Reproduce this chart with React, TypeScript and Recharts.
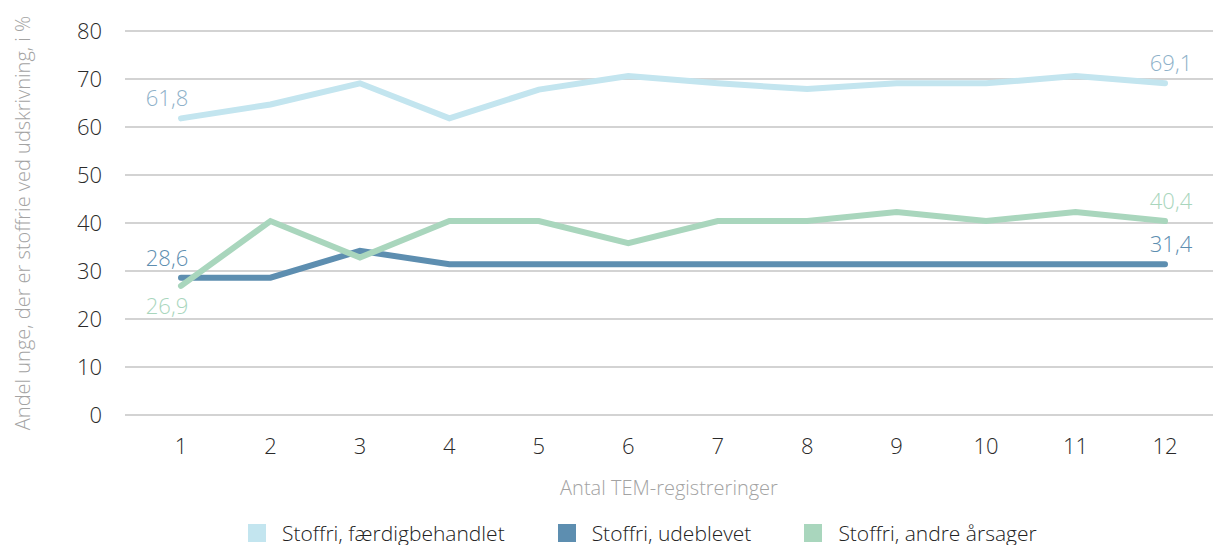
import { LineChart, Line, XAxis, YAxis, CartesianGrid, LabelList } from "recharts";

const categories = ["1", "2", "3", "4", "5", "6", "7", "8", "9", "10", "11", "12"];
const faerdig = [61.8, 64.7, 69.1, 61.8, 67.8, 70.6, 69.1, 67.9, 69.1, 69.1, 70.6, 69.1];
const udeblevet = [28.6, 28.6, 34.2, 31.4, 31.4, 31.4, 31.4, 31.4, 31.4, 31.4, 31.4, 31.4];
const andre = [26.9, 40.4, 32.8, 40.4, 40.4, 35.8, 40.4, 40.4, 42.3, 40.4, 42.3, 40.4];
const yTicks = [0, 10, 20, 30, 40, 50, 60, 70, 80];

const series = [
  { key: "faerdig", name: "Stoffri, færdigbehandlet", color: "#c3e5ef", labelColor: "#8eb1c9", firstBelow: false },
  { key: "udeblevet", name: "Stoffri, udeblevet", color: "#5d8eb0", labelColor: "#5d8eb0", firstBelow: false },
  { key: "andre", name: "Stoffri, andre årsager", color: "#a9d6bd", labelColor: "#a9d6bd", firstBelow: true },
];

const data = categories.map((c, i) => ({
  cat: c,
  faerdig: faerdig[i],
  udeblevet: udeblevet[i],
  andre: andre[i],
}));

const FONT = "'Open Sans', sans-serif";
const last = categories.length - 1;

function endLabel(color: string, firstBelow: boolean) {
  return (props: any) => {
    const { x, y, value, index } = props;
    if (index !== 0 && index !== last) return null;
    const dx = index === 0 ? -14 : 6;
    const dy = index === 0 && firstBelow ? 19 : -21;
    return (
      <text
        x={x + dx}
        y={y + dy}
        fill={color}
        fontSize={22}
        fontWeight={300}
        fontFamily={FONT}
        textAnchor="middle"
        dominantBaseline="central"
      >
        {String(value).replace(".", ",")}
      </text>
    );
  };
}

export default function App() {
  return (
    <div style={{ position: "absolute", left: 0, top: 0, width: 1213, height: 545, background: "#fff" }}>
      <LineChart
        width={1213}
        height={545}
        data={data}
        margin={{ top: 31, right: 0, left: 0, bottom: 50 }}
      >
        <CartesianGrid vertical={false} stroke="#c4c4c4" strokeWidth={1.5} />
        <XAxis
          dataKey="cat"
          axisLine={false}
          tickLine={false}
          height={80}
          tickMargin={17}
          padding={{ left: 56, right: 48 }}
          tick={{ fontSize: 22, fill: "#2a2a2a", fontFamily: FONT, fontWeight: 300 }}
          label={{
            value: "Antal TEM-registreringer",
            position: "insideBottom",
            offset: 0,
            fill: "#a3a3a3",
            fontSize: 20,
            fontWeight: 300,
            fontFamily: FONT,
          }}
        />
        <YAxis
          width={125}
          domain={[0, 80]}
          ticks={yTicks}
          axisLine={false}
          tickLine={false}
          tickMargin={17}
          tick={{ fontSize: 22, fill: "#2a2a2a", fontFamily: FONT, fontWeight: 300 }}
          label={(props: any) => {
            const vb = props.viewBox;
            const cx = 22;
            const cy = vb.y + vb.height / 2;
            return (
              <text
                x={cx}
                y={cy}
                transform={`rotate(-90, ${cx}, ${cy})`}
                textAnchor="middle"
                dominantBaseline="central"
                fill="#a3a3a3"
                fontSize={20}
                fontWeight={300}
                fontFamily={FONT}
              >
                Andel unge, der er stoffrie ved udskrivning, i %
              </text>
            );
          }}
        />
        {series.map((s) => (
          <Line
            key={s.key}
            dataKey={s.key}
            name={s.name}
            type="linear"
            stroke={s.color}
            strokeWidth={6}
            strokeLinecap="round"
            dot={false}
            activeDot={false}
            isAnimationActive={false}
          >
            <LabelList dataKey={s.key} content={endLabel(s.labelColor, s.firstBelow)} />
          </Line>
        ))}
      </LineChart>
      <div
        style={{
          position: "absolute",
          top: 519,
          left: 248,
          display: "flex",
          alignItems: "center",
          fontFamily: FONT,
          fontSize: 21,
          fontWeight: 300,
          color: "#222",
          whiteSpace: "nowrap",
        }}
      >
        {series.map((s, i) => (
          <div key={s.key} style={{ display: "flex", alignItems: "center", marginRight: i < series.length - 1 ? 53 : 0 }}>
            <span style={{ display: "inline-block", width: 18, height: 18, background: s.color, marginRight: 16 }} />
            <span>{s.name}</span>
          </div>
        ))}
      </div>
    </div>
  );
}
